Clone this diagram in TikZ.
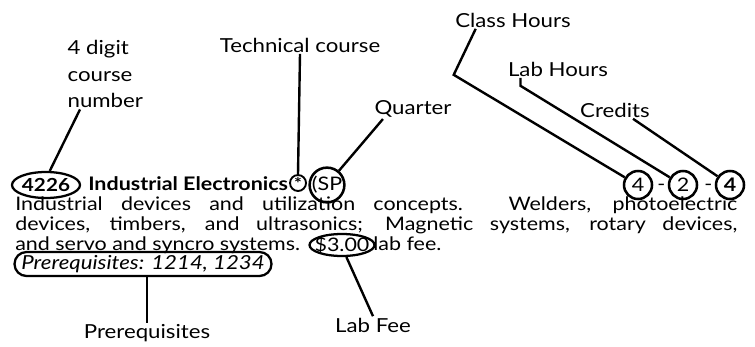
\documentclass[tikz,border=0pt]{standalone}
\usepackage{fontspec}
\setmainfont{Lato}[FakeStretch=1.15]
\usetikzlibrary{calc,positioning,shapes.geometric}
\tikzset{%
	callout/.style = {font=\fontsize{14.5}{20}\selectfont, inner sep=1pt}, % label text
	body/.style    = {font=\fontsize{14}{15}\selectfont, inner sep=0pt, anchor=base west}, % catalog text
	oval/.style    = {draw, ellipse, line width=1.7pt, inner sep=0pt},
	pill/.style    = {draw, rectangle, rounded corners=9pt, line width=1.7pt, inner sep=0pt},
	ring/.style    = {draw, circle, line width=1.9pt, inner sep=0pt, minimum size=21pt},
	leader/.style  = {line width=1.8pt},
}

\begin{document}
\begin{tikzpicture}[x=0.75pt, y=-0.75pt]
	\useasboundingbox (0,0) rectangle (755,346);
	% catalog entry
	\node[oval, minimum width=51pt, minimum height=19.5pt, font=\fontsize{13.5}{15}\selectfont\bfseries] (num) at (46,185) {4226};
	\node[body, font=\fontsize{14}{15}\selectfont\bfseries] (title) at (88,190) {Industrial Electronics};
	\node[ring, minimum size=12pt, line width=1.4pt, font=\fontsize{12}{12}\selectfont\bfseries] (star) at (298,183) {\raisebox{-3.5pt}{*}};
	\node[ring, minimum size=22.5pt, font=\fontsize{14}{15}\selectfont] (sp) at (327,185) {(SP};
	\node[ring, font=\fontsize{14}{15}\selectfont] (hrs1) at (638,185) {4};
	\node[body] (hy1) at (657,190) {-};
	\node[ring, font=\fontsize{14}{15}\selectfont] (hrs2) at (683,185) {2};
	\node[body] (hy2) at (704,190) {-};
	\node[ring, font=\fontsize{14}{15}\selectfont\bfseries] (hrs3) at (730,185) {4};
	\node[body] (line2) at (15,210) {\makebox[541.5pt][s]{Industrial devices and utilization concepts. Welders, photoelectric}};
	\node[body] (line3) at (15,230) {\makebox[541.5pt][s]{devices, timbers, and ultrasonics; Magnetic systems, rotary devices,}};
	\node[body] (line4) at (15,250) {and servo and syncro systems.};
	\node[oval, inner sep=-6pt, minimum width=48.75pt, minimum height=16.5pt, font=\fontsize{14}{15}\selectfont] (fee) at (342,245) {\$3.00};
	\node[body] (labfee) at (373,250) {lab fee.};
	\node[pill, minimum width=192.75pt, minimum height=18pt, font=\fontsize{14.5}{15}\selectfont\itshape] (prq) at (143,264) {Prerequisites: 1214, 1234};

	% labels
	\node[callout, align=left, anchor=west] (digits) at (66,74) {4 digit\\course\\number};
	\node[callout] (tech) at (300,45) {Technical course};
	\node[callout] (quarter) at (413,109) {Quarter};
	\node[callout] (classhrs) at (513,20) {Class Hours};
	\node[callout] (labhrs) at (558,69) {Lab Hours};
	\node[callout] (credits) at (615,110) {Credits};
	\node[callout] (prqlabel) at (147,333) {Prerequisites};
	\node[callout] (feelabel) at (373,325) {Lab Fee};

	\draw[leader] ($(digits.south west)+(14,0)$) -- (num.75);
	\draw[leader] (tech.south) -- (star.north);
	\draw[leader] ($(quarter.south west)+(10,0)$) -- (sp.50);
	\draw[leader] ($(classhrs.south west)+(22,0)$) -- ++(-22,46) -- (hrs1.150);
	\draw[leader] ($(labhrs.south west)+(14,0)$) -- ++(0,8) -- (hrs2.150);
	\draw[leader] ($(credits.south)+(18,0)$) -- (hrs3.145);
	\draw[leader] (prq.south -| prqlabel) -- (prqlabel.north);
	\draw[leader] (fee.-70) -- (feelabel.north);
\end{tikzpicture}
\end{document}
